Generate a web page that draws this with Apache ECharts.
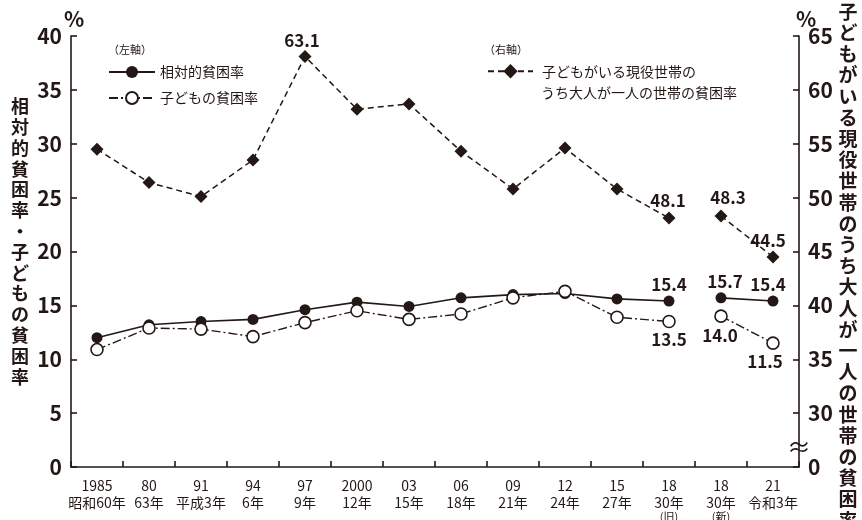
<!DOCTYPE html>
<html lang="ja">
<head>
<meta charset="utf-8">
<title>相対的貧困率・子どもの貧困率の推移</title>
<script src="https://cdn.jsdelivr.net/npm/echarts@6/dist/echarts.min.js"></script>
<style>
  html, body { margin: 0; padding: 0; background: #fff; }
  #chart { width: 862px; height: 520px; }
</style>
</head>
<body>
<div id="chart"></div>
<script>
// 調査年（西暦・和暦・注記）
const yearLabels = ['1985', '80', '91', '94', '97', '2000', '03', '06', '09', '12', '15', '18', '18', '21'];
const eraLabels  = ['昭和60年', '63年', '平成3年', '6年', '9年', '12年', '15年', '18年', '21年', '24年', '27年', '30年', '30年', '令和3年'];
const noteLabels = ['', '', '', '', '', '', '', '', '', '', '', '(旧)', '(新)', ''];

// 左軸（%）
const relativePoverty = [12.0, 13.2, 13.5, 13.7, 14.6, 15.3, 14.9, 15.7, 16.0, 16.1, 15.6, 15.4, 15.7, 15.4];
const childPoverty    = [10.9, 12.9, 12.8, 12.1, 13.4, 14.5, 13.7, 14.2, 15.7, 16.3, 13.9, 13.5, 14.0, 11.5];
// 右軸（%）
const singleAdultPoverty = [54.5, 51.4, 50.1, 53.5, 63.1, 58.2, 58.7, 54.3, 50.8, 54.6, 50.8, 48.1, 48.3, 44.5];

// 2018年の旧基準と新基準の間で線を切る位置
const splitIndex = 12;

const leftTicks  = [0, 5, 10, 15, 20, 25, 30, 35, 40];
const rightTicks = [0, 30, 35, 40, 45, 50, 55, 60, 65];

const INK = '#231815';
const FONT = '"Noto Sans CJK JP", "Noto Sans", sans-serif';

const NAME_REL = '相対的貧困率';
const NAME_CHILD = '子どもの貧困率';
const NAME_SINGLE = '子どもがいる現役世帯のうち大人が一人の世帯の貧困率';
const SINGLE_LINE1 = '子どもがいる現役世帯の';
const SINGLE_LINE2 = 'うち大人が一人の世帯の貧困率';
const LEFT_TITLE = '相対的貧困率・子どもの貧困率';

// 数値ラベルを付ける点と、その配置
const labelPlacement = {
  rel:    { 11: { position: 'top' }, 12: { position: 'top', offset: [4, 1] }, 13: { position: 'top', offset: [-5, 0] } },
  child:  { 11: { position: 'bottom' }, 12: { position: 'bottom', offset: [-1, 1] }, 13: { position: 'bottom', offset: [-8, 0] } },
  single: { 4: { position: 'top', offset: [-3, 2] }, 11: { position: 'top', offset: [-1, 0] }, 12: { position: 'top', offset: [7, 0] }, 13: { position: 'top', offset: [-5, 2] } }
};

function part(values, key, from, to) {
  return values.map((v, i) => {
    if (i < from || i >= to) return '-';
    const p = labelPlacement[key][i];
    if (!p) return v;
    return {
      value: v,
      label: {
        show: true,
        position: p.position,
        distance: 3,
        offset: p.offset || [0, 0],
        formatter: v.toFixed(1),
        fontFamily: FONT,
        fontSize: 17,
        fontWeight: 'bold',
        color: INK
      }
    };
  });
}

const relStyle = {
  type: 'line', yAxisIndex: 0, name: NAME_REL,
  symbol: 'circle', symbolSize: 11,
  itemStyle: { color: INK, borderColor: INK, borderWidth: 0 },
  lineStyle: { color: INK, width: 1.6, type: 'solid' },
  z: 3
};
const childStyle = {
  type: 'line', yAxisIndex: 0, name: NAME_CHILD,
  symbol: 'circle', symbolSize: 12,
  itemStyle: { color: '#ffffff', borderColor: INK, borderWidth: 1.6 },
  lineStyle: { color: INK, width: 1.4, type: [9, 3, 2, 3] },
  z: 4
};
const singleStyle = {
  type: 'line', yAxisIndex: 1, name: NAME_SINGLE,
  symbol: 'diamond', symbolSize: 13,
  itemStyle: { color: INK, borderColor: INK, borderWidth: 0 },
  lineStyle: { color: INK, width: 1.5, type: [6, 4] },
  z: 3
};

const n = yearLabels.length;
const series = [
  Object.assign({}, relStyle,    { data: part(relativePoverty, 'rel', 0, splitIndex) }),
  Object.assign({}, relStyle,    { data: part(relativePoverty, 'rel', splitIndex, n) }),
  Object.assign({}, childStyle,  { data: part(childPoverty, 'child', 0, splitIndex) }),
  Object.assign({}, childStyle,  { data: part(childPoverty, 'child', splitIndex, n) }),
  Object.assign({}, singleStyle, { data: part(singleAdultPoverty, 'single', 0, splitIndex) }),
  Object.assign({}, singleStyle, { data: part(singleAdultPoverty, 'single', splitIndex, n) })
];

const vertical = s => s.split('').join('\n');

const axisCommon = {
  axisLine: { show: true, lineStyle: { color: INK, width: 1.6 } },
  axisTick: { show: true, inside: true, length: 6, lineStyle: { color: INK, width: 1.6 } },
  splitLine: { show: false }
};

const option = {
  backgroundColor: '#ffffff',
  animation: false,
  textStyle: { fontFamily: FONT, color: INK },
  grid: { left: 71, right: 63, top: 36, bottom: 53, containLabel: false, outerBoundsMode: 'none' },
  legend: [
    {
      data: [NAME_REL, NAME_CHILD],
      orient: 'vertical',
      left: 108, top: 65, padding: 0,
      itemWidth: 46, itemHeight: 15, itemGap: 12,
      selectedMode: false,
      textStyle: { fontFamily: FONT, fontSize: 14, color: INK }
    },
    {
      data: [NAME_SINGLE],
      left: 487, top: 64, padding: 0,
      itemWidth: 45, itemHeight: 18,
      selectedMode: false,
      formatter: () => SINGLE_LINE1,
      textStyle: { fontFamily: FONT, fontSize: 14, color: INK, padding: [0, 0, 0, 4] }
    }
  ],
  xAxis: Object.assign({}, axisCommon, {
    type: 'category',
    data: yearLabels.map((y, i) => i),
    boundaryGap: true,
    axisTick: { show: true, inside: true, length: 6, interval: 0, lineStyle: { color: INK, width: 1.6 } },
    axisLabel: {
      interval: 0, margin: 10,
      fontFamily: FONT, fontSize: 14, lineHeight: 17, color: INK,
      formatter: i => yearLabels[i] + '\n' + eraLabels[i] + (noteLabels[i] ? '\n{s|' + noteLabels[i] + '}' : ''),
      rich: { s: { fontFamily: FONT, fontSize: 11, lineHeight: 12, color: INK } }
    }
  }),
  yAxis: [
    Object.assign({}, axisCommon, {
      type: 'value', position: 'left',
      min: leftTicks[0], max: leftTicks[leftTicks.length - 1], interval: 5,
      axisLabel: { margin: 9, fontFamily: FONT, fontSize: 21, fontWeight: 'bold', color: INK }
    }),
    Object.assign({}, axisCommon, {
      type: 'value', position: 'right',
      // 0〜30 は省略（≈）し、軸の下端を 0 と表示
      min: 25, max: rightTicks[rightTicks.length - 1], interval: 5,
      axisLabel: {
        margin: 9, fontFamily: FONT, fontSize: 21, fontWeight: 'bold', color: INK,
        formatter: v => (v < rightTicks[1] ? String(rightTicks[0]) : String(v))
      }
    })
  ],
  graphic: [
    // 縦書きの軸タイトル
    { type: 'text', x: 20, y: 96, style: { text: vertical(LEFT_TITLE), font: 'bold 18px ' + FONT, lineHeight: 20.8, fill: INK, align: 'center', verticalAlign: 'top' } },
    { type: 'text', x: 848, y: 1, style: { text: vertical(NAME_SINGLE), font: 'bold 19px ' + FONT, lineHeight: 21.2, fill: INK, align: 'center', verticalAlign: 'top' } },
    { type: 'text', left: 64, top: 9, style: { text: '%', font: 'bold 21px ' + FONT, fill: INK } },
    { type: 'text', left: 796, top: 9, style: { text: '%', font: 'bold 21px ' + FONT, fill: INK } },
    { type: 'text', left: 108, top: 44, style: { text: '（左軸）', font: '11px ' + FONT, fill: INK } },
    { type: 'text', left: 484, top: 44, style: { text: '（右軸）', font: '11px ' + FONT, fill: INK } },
    { type: 'text', left: 541, top: 86, style: { text: SINGLE_LINE2, font: '14px ' + FONT, fill: INK } },
    { type: 'text', x: 799, y: 447, style: { text: '≈', font: '24px ' + FONT, fill: INK, align: 'center', verticalAlign: 'middle' } }
  ],
  series: series
};

const chart = echarts.init(document.getElementById('chart'), null, { renderer: 'canvas' });
chart.setOption(option);
</script>
</body>
</html>
